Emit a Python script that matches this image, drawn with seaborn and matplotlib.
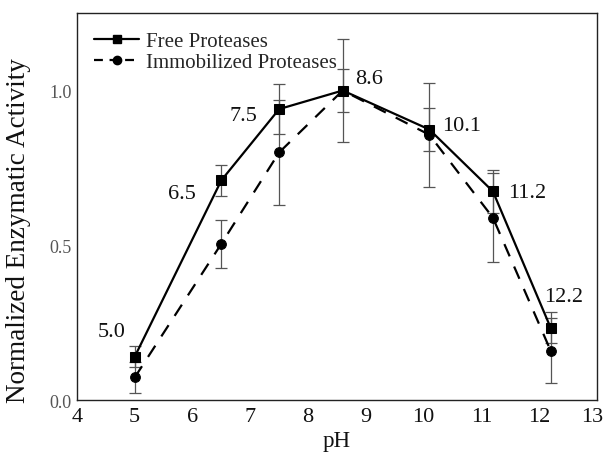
import matplotlib
matplotlib.use("Agg")
import matplotlib.pyplot as plt
import matplotlib.transforms as mtransforms
import seaborn as sns
import pandas as pd
from matplotlib.lines import Line2D

sns.set_theme(style="white")
plt.rcParams['font.family'] = ['Liberation Serif', 'DejaVu Serif']

ph = [5.0, 6.5, 7.5, 8.6, 10.1, 11.2, 12.2]
free_act = [0.14, 0.71, 0.94, 1.00, 0.874, 0.674, 0.233]
free_err = [0.033, 0.05, 0.08, 0.165, 0.07, 0.07, 0.05]
immo_act = [0.073, 0.505, 0.80, 1.00, 0.857, 0.589, 0.159]
immo_err = [0.05, 0.077, 0.17, 0.068, 0.168, 0.144, 0.105]
point_labels = ["5.0", "6.5", "7.5", "8.6", "10.1", "11.2", "12.2"]
label_x = [4.6, 5.81, 6.89, 9.05, 10.66, 11.8, 12.43]
label_y = [0.22, 0.667, 0.92, 1.04, 0.887, 0.672, 0.333]

df = pd.DataFrame({
    "pH": ph * 2,
    "activity": free_act + immo_act,
    "series": ["Free Proteases"] * len(ph) + ["Immobilized Proteases"] * len(ph),
})

fig = plt.figure(figsize=(6.06, 4.56), dpi=100)
ax = fig.add_axes([0.127, 0.1206, 0.858, 0.8484])

ax.errorbar(ph, free_act, yerr=free_err, fmt='none', ecolor='#555555',
            elinewidth=0.9, capsize=4, capthick=0.9, zorder=1)
ax.errorbar(ph, immo_act, yerr=immo_err, fmt='none', ecolor='#555555',
            elinewidth=0.9, capsize=4, capthick=0.9, zorder=1)

sns.lineplot(data=df[df.series == "Free Proteases"], x="pH", y="activity",
             ax=ax, color="black", linewidth=1.6, marker="s", markersize=7,
             markeredgecolor="black", legend=False, zorder=3)
sns.lineplot(data=df[df.series == "Immobilized Proteases"], x="pH", y="activity",
             ax=ax, color="black", linewidth=1.6, linestyle=(0, (6, 5)),
             marker="o", markersize=7, markeredgecolor="black", legend=False, zorder=2)

for t, x, y in zip(point_labels, label_x, label_y):
    ax.text(x, y, t, ha="center", va="center", fontsize=16, color="#111111")

ax.set_xlim(4, 13)
ax.set_ylim(0, 1.25)
ax.set_xticks(range(4, 14))
ax.set_yticks([0.0, 0.5, 1.0])
ax.set_yticklabels(["0.0", "0.5", "1.0"])
ax.tick_params(axis='x', labelsize=16, length=0, pad=5, colors='#111111')
ax.tick_params(axis='y', labelsize=13, length=0, pad=4, colors='#555555')
ax.set_xlabel("pH", fontsize=16.5, color='#111111')
ax.set_ylabel("Normalized Enzymatic Activity", fontsize=19.5, color='#111111')
ax.xaxis.set_label_coords(0.5, -0.077)
ax.yaxis.set_label_coords(-0.088, 0.44)

fig.canvas.draw()
last = ax.get_xticklabels()[-1]
last.set_transform(last.get_transform() + mtransforms.ScaledTranslation(-5 / 100, 0, fig.dpi_scale_trans))

for s in ax.spines.values():
    s.set_color('#222222')
    s.set_linewidth(1.0)

handles = [
    Line2D([0], [0], color='black', linewidth=1.6, marker='s', markersize=6),
    Line2D([0], [0], color='black', linewidth=1.6, linestyle=(0, (4, 3)), marker='o', markersize=6),
]
ax.legend(handles, ["Free Proteases", "Immobilized Proteases"], loc="upper left",
          frameon=False, fontsize=15, handlelength=2.2, handletextpad=0.3,
          borderaxespad=0.4, labelspacing=0.05, bbox_to_anchor=(0.0, 0.995))

fig.savefig("out.png", dpi=100)
